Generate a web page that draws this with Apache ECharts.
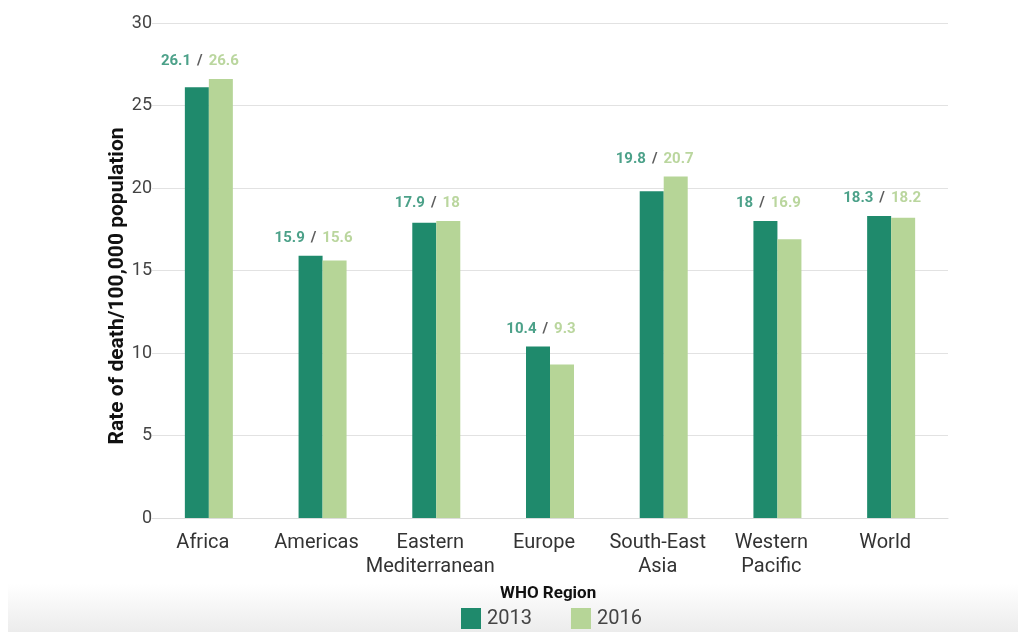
<!DOCTYPE html>
<html>
<head>
<meta charset="utf-8">
<script src="https://cdn.jsdelivr.net/npm/echarts@6/dist/echarts.min.js"></script>
<style>
  html, body { margin: 0; padding: 0; background: #fff; }
  #chart { width: 1018px; height: 632px; }
</style>
</head>
<body>
<div id="chart"></div>
<script>
// WHO regions and death rates per 100,000 population
const regions = ['Africa', 'Americas', 'Eastern\nMediterranean', 'Europe', 'South-East\nAsia', 'Western\nPacific', 'World'];
const rate2013 = [26.1, 15.9, 17.9, 10.4, 19.8, 18, 18.3];
const rate2016 = [26.6, 15.6, 18, 9.3, 20.7, 16.9, 18.2];
const yTicks = [0, 5, 10, 15, 20, 25, 30];

const DARK = '#1f8a6c';
const LIGHT = '#b6d597';
const FONT = 'Roboto, sans-serif';

// Paired value label sits above the taller of the two bars
const labelAnchor = regions.map((r, i) => ({
  value: Math.max(rate2013[i], rate2016[i]),
  a: rate2013[i],
  b: rate2016[i]
}));

const chart = echarts.init(document.getElementById('chart'));
chart.setOption({
  animation: false,
  textStyle: { fontFamily: FONT },
  graphic: [{
    type: 'rect',
    left: 8, top: 584,
    shape: { width: 1010, height: 48 },
    style: {
      fill: new echarts.graphic.LinearGradient(0, 0, 0, 1, [
        { offset: 0, color: '#ffffff' },
        { offset: 1, color: '#ececec' }
      ])
    },
    z: -10
  }, {
    type: 'text',
    left: 500,
    top: 585,
    style: {
      text: 'WHO Region',
      font: 'bold 17px Roboto, sans-serif',
      fill: '#111'
    }
  }, {
    // vertical axis title
    type: 'text',
    x: 118,
    y: 286,
    rotation: Math.PI / 2,
    style: {
      text: 'Rate of death/100,000 population',
      font: 'bold 21px Roboto, sans-serif',
      fill: '#111',
      align: 'center',
      verticalAlign: 'middle'
    }
  }],
  legend: {
    top: 603,
    left: 456,
    itemWidth: 20,
    itemHeight: 21,
    itemGap: 39,
    icon: 'rect',
    textStyle: { fontSize: 20, color: '#444', fontFamily: FONT, padding: [0, 0, 0, 1] },
    data: ['2013', '2016']
  },
  grid: { left: 152, right: 70, top: 23, bottom: 114 },
  xAxis: {
    type: 'category',
    data: regions,
    axisTick: { show: false },
    axisLine: { lineStyle: { color: '#dcdcdc' } },
    axisLabel: {
      interval: 0, fontSize: 20, color: '#333', margin: 13, lineHeight: 24,
      padding: [0, 12, 0, 0]
    }
  },
  yAxis: {
    type: 'value',
    min: yTicks[0],
    max: yTicks[yTicks.length - 1],
    interval: 5,
    axisLine: { show: false },
    axisTick: { show: false },
    axisLabel: { fontSize: 18, color: '#444', margin: 0 },
    splitLine: { lineStyle: { color: '#e2e2e2' } }
  },
  series: [{
    name: '2013',
    type: 'bar',
    data: rate2013,
    barWidth: 24,
    barGap: '0%',
    itemStyle: { color: DARK }
  }, {
    name: '2016',
    type: 'bar',
    data: rate2016,
    barWidth: 24,
    itemStyle: { color: LIGHT }
  }, {
    name: 'labels',
    type: 'scatter',
    data: labelAnchor,
    symbolSize: 0,
    silent: true,
    label: {
      show: true,
      position: 'top',
      distance: 10,
      offset: [-9, 0],
      formatter: p => '{a|' + p.data.a + '}{s|/}{b|' + p.data.b + '}',
      rich: {
        a: { fontSize: 15, fontWeight: 'bold', color: DARK, fontFamily: FONT },
        s: { fontSize: 15, fontWeight: 'bold', color: '#333', fontFamily: FONT, padding: [0, 6] },
        b: { fontSize: 15, fontWeight: 'bold', color: '#a9cc86', fontFamily: FONT }
      }
    }
  }]
});
</script>
</body>
</html>
